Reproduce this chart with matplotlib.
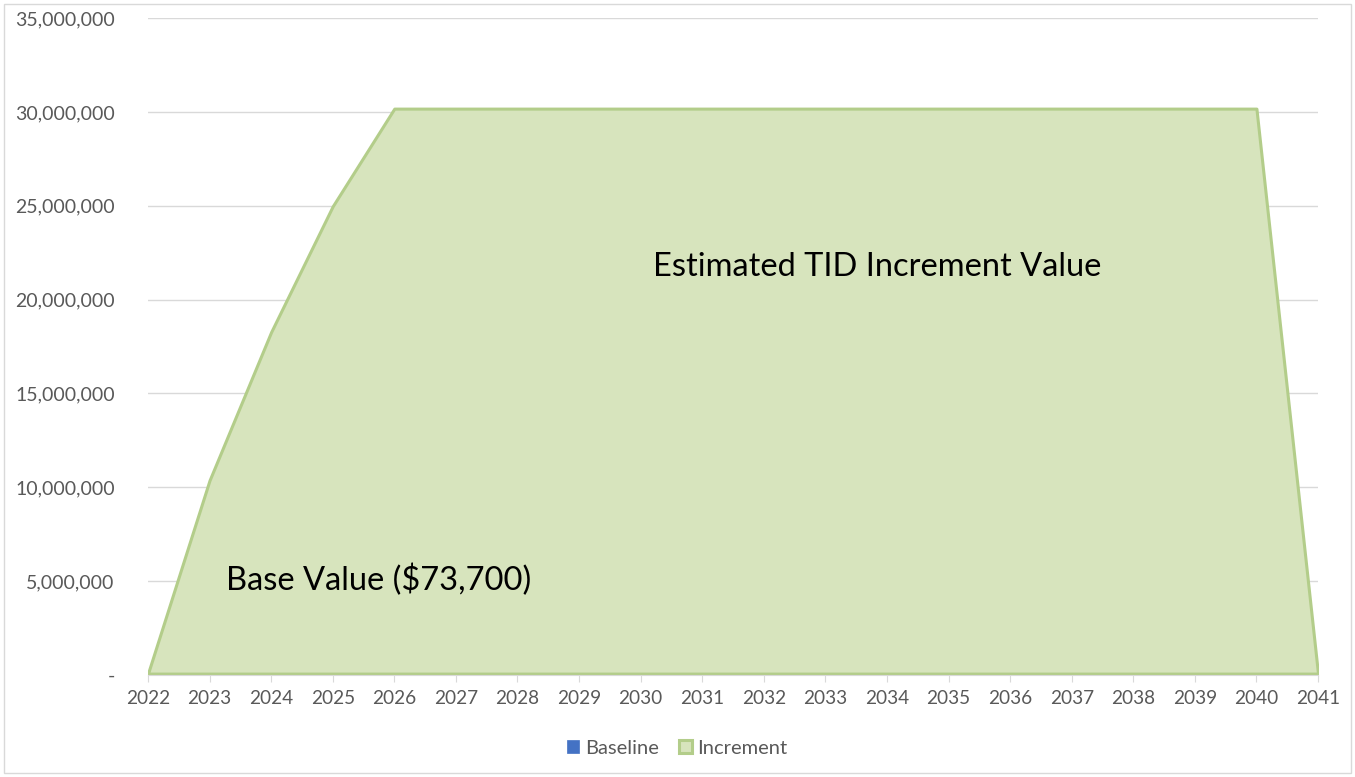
import matplotlib
matplotlib.use("Agg")
import matplotlib.pyplot as plt
from matplotlib.ticker import FuncFormatter
from matplotlib.patches import Rectangle

plt.rcParams['font.family'] = ['Lato', 'DejaVu Sans']

years = list(range(2022, 2042))
baseline = [73700] * len(years)
increment = [0, 10300000, 18200000, 24900000, 30100000,
             30100000, 30100000, 30100000, 30100000, 30100000,
             30100000, 30100000, 30100000, 30100000, 30100000,
             30100000, 30100000, 30100000, 30100000, 0]
series_names = ['Baseline', 'Increment']
base_label = 'Base Value ($73,700)'
incr_label = 'Estimated TID Increment Value'

fig = plt.figure(figsize=(13.55, 7.77), dpi=100)
ax = fig.add_axes([0.1092, 0.1313, 0.8635, 0.8455])

polys = ax.stackplot(years, baseline, increment,
                     colors=['#4472C4', '#D7E4BD'], labels=series_names)
polys[0].set_edgecolor('#4472C4')
polys[0].set_linewidth(0.5)
polys[1].set_edgecolor('#B3CD8A')
polys[1].set_linewidth(2.2)

ax.set_xlim(2022, 2041)
ax.set_ylim(0, 35000000)
ax.set_xticks(years)
ax.set_yticks(range(0, 35000001, 5000000))
ax.yaxis.set_major_formatter(FuncFormatter(lambda v, p: '-' if v == 0 else f'{int(v):,}'))

ax.grid(axis='y', color='#D9D9D9', linewidth=1)
ax.set_axisbelow(True)
for s in ['top', 'right', 'left']:
    ax.spines[s].set_visible(False)
ax.spines['bottom'].set_color('#D9D9D9')
ax.tick_params(axis='y', length=0, pad=24, labelsize=14, labelcolor='#595959')
ax.tick_params(axis='x', length=5, color='#D9D9D9', pad=6, labelsize=13.7, labelcolor='#595959')

ax.text(0.623, 0.621, incr_label, transform=ax.transAxes, ha='center', va='center',
        fontsize=23.5, color='black')
ax.text(0.197, 0.145, base_label, transform=ax.transAxes, ha='center', va='center',
        fontsize=23.5, color='black')

fig.legend(loc='center', bbox_to_anchor=(0.5, 0.037), ncol=2, frameon=False,
           fontsize=14.5, labelcolor='#595959', handlelength=0.6, handleheight=0.6,
           handletextpad=0.3, columnspacing=1.0)

fig.patches.append(Rectangle((0.003, 0.005), 0.994, 0.99, transform=fig.transFigure,
                             fill=False, edgecolor='#D9D9D9', linewidth=1))

fig.savefig('out.png', dpi=100)
